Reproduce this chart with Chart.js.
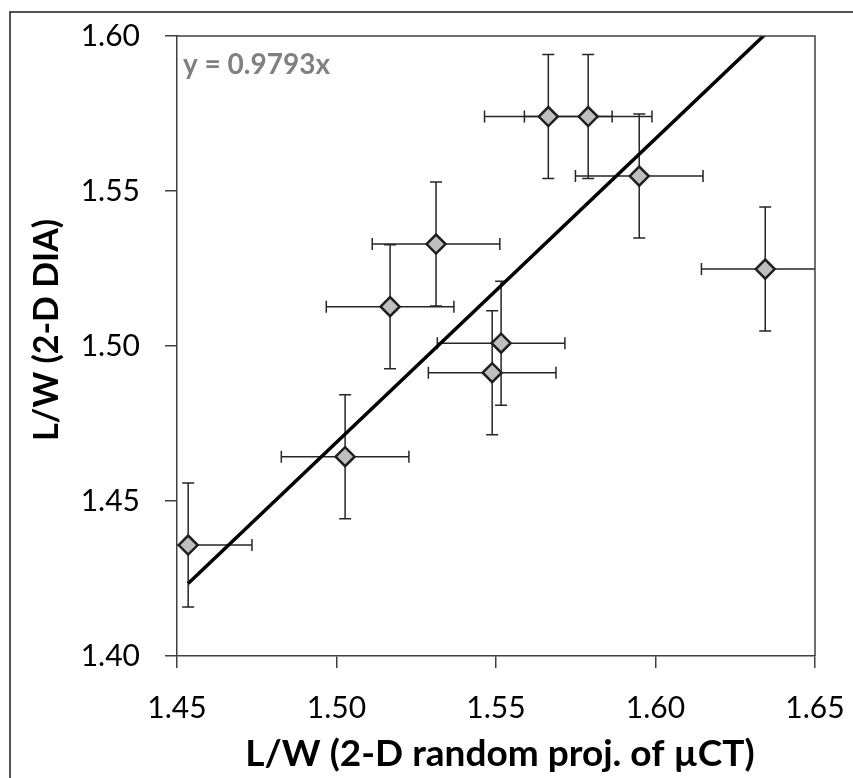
<!DOCTYPE html>
<html>
<head>
<meta charset="utf-8">
<script src="https://cdn.jsdelivr.net/npm/chart.js@4"></script>
<style>
  html, body { margin: 0; padding: 0; background: #ffffff; }
  #wrap { position: relative; width: 853px; height: 778px; }
</style>
</head>
<body>
<div id="wrap"><canvas id="c" width="853" height="778"></canvas></div>
<script>
// ---- data ----
const xValues = [1.4535, 1.5027, 1.5168, 1.5312, 1.5488, 1.5516, 1.5664, 1.5789, 1.5949, 1.6344];
const yValues = [1.4358, 1.4643, 1.5127, 1.5329, 1.4914, 1.5009, 1.5740, 1.5740, 1.5548, 1.5248];
const xErrors = [0.02, 0.02, 0.02, 0.02, 0.02, 0.02, 0.02, 0.02, 0.02, 0.02];
const yErrors = [0.02, 0.02, 0.02, 0.02, 0.02, 0.02, 0.02, 0.02, 0.02, 0.02];
const trendSlope = 0.9793;
const xTicks = [1.45, 1.50, 1.55, 1.60, 1.65];
const yTicks = [1.40, 1.45, 1.50, 1.55, 1.60];
const equationLabel = 'y = 0.9793x';
const xTitle = 'L/W (2-D random proj. of µCT)';
const yTitle = 'L/W (2-D DIA)';

const points = xValues.map((x, i) => ({ x: x, y: yValues[i] }));
const xMin = Math.min(...xValues), xMax = Math.max(...xValues);
const trendPoints = [{ x: xMin, y: trendSlope * xMin }, { x: xMax, y: trendSlope * xMax }];

const FONT = 'Lato, "Open Sans", "DejaVu Sans", sans-serif';
const AXIS_COLOR = '#404040';

const errorBars = {
  id: 'errorBars',
  beforeDatasetsDraw(chart) {
    const { ctx, chartArea, scales } = chart;
    const xs = scales.x, ys = scales.y;
    const cap = 6;
    ctx.save();
    ctx.beginPath();
    ctx.rect(chartArea.left, chartArea.top, chartArea.right - chartArea.left, chartArea.bottom - chartArea.top);
    ctx.clip();
    ctx.strokeStyle = '#262626';
    ctx.lineWidth = 1.5;
    xValues.forEach((xv, i) => {
      const px = xs.getPixelForValue(xv), py = ys.getPixelForValue(yValues[i]);
      const xl = xs.getPixelForValue(xv - xErrors[i]), xr = xs.getPixelForValue(xv + xErrors[i]);
      const yt = ys.getPixelForValue(yValues[i] + yErrors[i]), yb = ys.getPixelForValue(yValues[i] - yErrors[i]);
      ctx.beginPath();
      ctx.moveTo(xl, py); ctx.lineTo(xr, py);
      ctx.moveTo(xl, py - cap); ctx.lineTo(xl, py + cap);
      ctx.moveTo(xr, py - cap); ctx.lineTo(xr, py + cap);
      ctx.moveTo(px, yt); ctx.lineTo(px, yb);
      ctx.moveTo(px - cap, yt); ctx.lineTo(px + cap, yt);
      ctx.moveTo(px - cap, yb); ctx.lineTo(px + cap, yb);
      ctx.stroke();
    });
    ctx.restore();
  }
};

const decorations = {
  id: 'decorations',
  afterDraw(chart) {
    const { ctx, chartArea } = chart;
    ctx.save();
    // plot-area frame (top and right edges)
    ctx.strokeStyle = AXIS_COLOR;
    ctx.lineWidth = 1.5;
    ctx.beginPath();
    ctx.moveTo(chartArea.left, chartArea.top);
    ctx.lineTo(chartArea.right, chartArea.top);
    ctx.lineTo(chartArea.right, chartArea.bottom);
    ctx.stroke();
    // outer chart border
    ctx.strokeStyle = '#1a1a1a';
    ctx.lineWidth = 1.5;
    ctx.strokeRect(10, 12, 2000, 2000);
    // equation label
    ctx.fillStyle = '#808080';
    ctx.font = 'bold 28px ' + FONT;
    ctx.textAlign = 'left';
    ctx.textBaseline = 'middle';
    ctx.fillText(equationLabel, 183, 65);
    // axis titles
    ctx.fillStyle = '#000000';
    ctx.textAlign = 'center';
    ctx.textBaseline = 'middle';
    ctx.font = 'bold 37px ' + FONT;
    ctx.fillText(xTitle, 500, 754);
    ctx.font = 'bold 34px ' + FONT;
    ctx.translate(47, 330);
    ctx.rotate(-Math.PI / 2);
    ctx.fillText(yTitle, 0, 0);
    ctx.restore();
  }
};

new Chart(document.getElementById('c'), {
  type: 'scatter',
  data: {
    datasets: [
      {
        type: 'line',
        label: 'trend',
        data: trendPoints,
        borderColor: '#000000',
        borderWidth: 3.5,
        pointRadius: 0,
        fill: false,
        clip: 0,
        order: 0
      },
      {
        label: 'data',
        data: points,
        pointStyle: 'rectRot',
        pointRadius: 9.5,
        pointHoverRadius: 9.5,
        pointBackgroundColor: '#BFBFBF',
        pointBorderColor: '#1f1f1f',
        pointBorderWidth: 2.5,
        clip: false,
        order: 1
      }
    ]
  },
  options: {
    responsive: false,
    animation: false,
    events: [],
    layout: { padding: { top: 36, right: 38, left: 0, bottom: 0 } },
    plugins: { legend: { display: false }, tooltip: { enabled: false } },
    scales: {
      x: {
        type: 'linear',
        min: 1.45, max: 1.65,
        afterBuildTicks(scale) { scale.ticks = xTicks.map(v => ({ value: v })); },
        afterFit(scale) {
          scale.height = 122;
          scale.paddingLeft = 0; scale.paddingRight = 0;
          scale.paddingTop = 0; scale.paddingBottom = 0;
        },
        ticks: {
          color: '#000000',
          font: { family: FONT, size: 30 },
          padding: 22,
          maxRotation: 0,
          callback: v => v.toFixed(2)
        },
        grid: { display: true, drawOnChartArea: false, drawTicks: true, tickLength: 12, color: AXIS_COLOR, lineWidth: 1.5 },
        border: { display: true, color: AXIS_COLOR, width: 1.5 }
      },
      y: {
        type: 'linear',
        min: 1.40, max: 1.60,
        afterBuildTicks(scale) { scale.ticks = yTicks.map(v => ({ value: v })); },
        afterFit(scale) {
          scale.width = 177;
          scale.paddingLeft = 0; scale.paddingRight = 0;
          scale.paddingTop = 0; scale.paddingBottom = 0;
        },
        ticks: {
          color: '#000000',
          font: { family: FONT, size: 30 },
          padding: 25,
          callback: v => v.toFixed(2)
        },
        grid: { display: true, drawOnChartArea: false, drawTicks: true, tickLength: 12, color: AXIS_COLOR, lineWidth: 1.5 },
        border: { display: true, color: AXIS_COLOR, width: 1.5 }
      }
    }
  },
  plugins: [errorBars, decorations]
});
</script>
</body>
</html>
